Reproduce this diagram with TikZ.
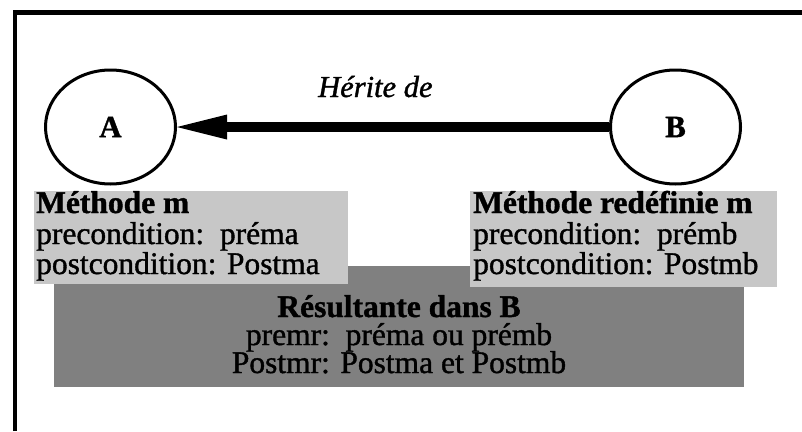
\documentclass[tikz,border=0pt]{standalone}
\usepackage{fontspec}
\setmainfont{Liberation Serif}[RawFeature={embolden=1.2}]
\usetikzlibrary{shapes.geometric,arrows.meta}
\tikzset{
  frame/.style={line width=4.5pt, line join=miter},
  classnode/.style={draw, ellipse, line width=3pt, minimum width=130pt, minimum height=114pt, inner sep=0pt,
     font=\fontsize{31}{31}\selectfont\bfseries},
  inherit/.style={line width=10pt, -{Triangle[length=50pt,width=25pt,line width=0pt]}},
  lightbox/.style={fill=black!22, inner sep=0pt, outer sep=0pt, anchor=north west},
  darkbox/.style={fill=black!50, inner sep=0pt, outer sep=0pt, anchor=north west},
  txt/.style={inner sep=0pt, font=\fontsize{31.5}{30}\selectfont},
  txtb/.style={txt, font=\fontsize{31.5}{30}\selectfont\bfseries},
  lbl/.style={inner sep=0pt, font=\fontsize{30.5}{30}\selectfont\itshape}
}
\begin{document}
\begin{tikzpicture}[x=1pt,y=-1pt]
\useasboundingbox (0,0) rectangle (802,431);
% frame
\coordinate (fbl) at (15,431);
\coordinate (ftr) at (802,12.5);
\draw[frame] (fbl) |- (ftr);
% classes
\node[classnode] (A) at (110.5,127) {A};
\node[classnode] (B) at (675.5,127) {B};
\draw[inherit] (B.west) -- (A.east);
\node[lbl, anchor=base west] (her) at (318,97) {Hérite de};
% boxes
\node[darkbox, minimum width=690pt, minimum height=121pt] (res) at (54,266) {};
\node[lightbox, minimum width=314pt, minimum height=93pt] (ma) at (34,191) {};
\node[lightbox, minimum width=307pt, minimum height=96pt] (mb) at (470,191) {};
% left box text
\node[txtb, anchor=base west] (ma1) at (36,213) {Méthode m};
\node[txt, anchor=base west] (ma2) at (36,244) {precondition:\ \ préma};
\node[txt, anchor=base west] (ma3) at (36,274) {postcondition: Postma};
% right box text
\node[txtb, anchor=base west] (mb1) at (473,213) {Méthode redéfinie m};
\node[txt, anchor=base west] (mb2) at (473,244) {precondition:\ \ prémb};
\node[txt, anchor=base west] (mb3) at (473,274) {postcondition: Postmb};
% result text
\node[txtb, anchor=base] (r1) at (399,317) {Résultante dans B};
\node[txt, anchor=base] (r2) at (399,345) {premr:\ \ préma ou prémb};
\node[txt, anchor=base] (r3) at (399,373) {Postmr: Postma et Postmb};
\end{tikzpicture}
\end{document}
